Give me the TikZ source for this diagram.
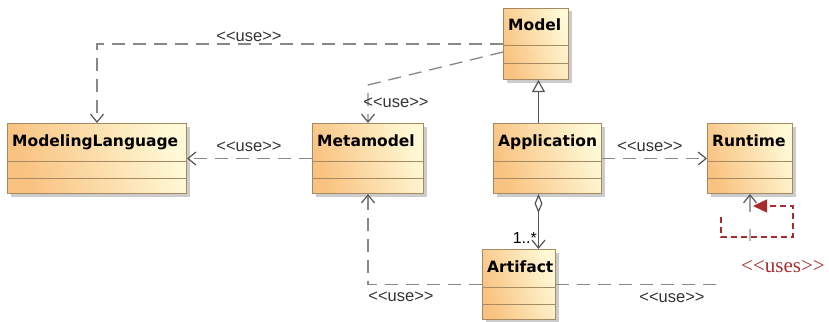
\documentclass[tikz,border=0pt]{standalone}
\usepackage{fontspec}
\setmainfont{Liberation Sans}
\newfontfamily\headfont{DejaVu Sans}
\newfontfamily\notefont{Liberation Serif}
\usetikzlibrary{arrows.meta,shadows,calc}

\definecolor{clsorange}{RGB}{249,194,128}
\definecolor{clsyellow}{RGB}{255,249,214}
\definecolor{clsborder}{RGB}{168,138,98}
\definecolor{depgrey}{RGB}{135,135,135}
\definecolor{tipgrey}{RGB}{85,85,85}
\definecolor{notered}{RGB}{165,45,45}

% stereotype text; the kerns keep << and >> from turning into guillemets
\newcommand\stereo[1]{<\kern0pt<#1>\kern0pt>}

\tikzset{
  cls/.style={draw=clsborder, line width=1pt, inner sep=0pt,
    left color=clsorange, right color=clsyellow, shading angle=110,
    drop shadow={shadow xshift=3pt, shadow yshift=-3pt, fill=black!20, opacity=1}},
  clstitle/.style={inner sep=0pt, font=\headfont\bfseries\fontsize{15.5}{18}\selectfont},
  clsline/.style={draw=clsborder, line width=1pt},
  openv/.tip={Straight Barb[length=8pt, width=13pt, line width=1.2pt, color=tipgrey]},
  dep/.style={draw=depgrey, line width=1.3pt, dash pattern=on 13pt off 8pt, -openv},
  depline/.style={draw=depgrey, line width=1.3pt, dash pattern=on 13pt off 8pt},
  gen/.style={draw=tipgrey, line width=1.2pt,
    -{Triangle[open, length=12pt, width=13pt, fill=white]}},
  agg/.style={draw=tipgrey, line width=1.2pt,
    {Diamond[open, length=19pt, width=8pt, fill=white]}-openv},
  stub/.style={draw=depgrey!80, line width=1.3pt, -openv},
  faint/.style={draw=depgrey!60, line width=1.3pt},
  redloop/.style={draw=notered, line width=1.5pt, dash pattern=on 6pt off 4pt,
    -{Triangle[length=14pt, width=13pt]}},
  lbl/.style={inner sep=0pt, text=black!80, font=\fontsize{16.5}{18}\selectfont},
}

% class box: name, left, top, width, height, title
\newcommand\umlbox[6]{%
  \node[cls, minimum width=#4pt, minimum height=#5pt, anchor=north west] (#1) at (#2,#3) {};
  \node[clstitle, anchor=base west] (#1-title) at ($(#1.north west)+(5,23)$) {#6};
  \draw[clsline] ($(#1.north west)+(0,38)$) -- ($(#1.north east)+(0,38)$);
  \draw[clsline] ($(#1.north west)+(0,55)$) -- ($(#1.north east)+(0,55)$);
}

\begin{document}
\begin{tikzpicture}[x=1pt, y=-1pt]
\useasboundingbox (0,0) rectangle (829,321);

\umlbox{ml}{7}{123}{179}{70}{ModelingLanguage}
\umlbox{mm}{312}{123}{111}{70}{Metamodel}
\umlbox{model}{503}{8}{65}{71}{Model}
\umlbox{app}{493}{123}{108}{70}{Application}
\umlbox{rt}{707}{123}{85}{70}{Runtime}
\umlbox{art}{482}{249}{73}{70}{Artifact}

% dependencies
\draw[dep] (model.west) -| (ml.north);
\draw[dep] ([yshift=-8pt]model.west) -- ($(mm.north)+(0,-38)$) -- (mm.north);
\draw[dep] (mm.west) -- (ml.east);
\draw[dep] (app.east) -- (rt.west);
\draw[dep] (art.west) -| (mm.south);
\coordinate (artcut) at ($(art.east)+(165,0)$);
\draw[depline] (art.east) -- (artcut);
\draw[stub] ($(rt.south)+(0,18)$) -- (rt.south);
\draw[faint] ($(rt.south)+(0,35)$) -- ($(rt.south)+(0,47)$);

% generalization and aggregation
\coordinate (genfoot) at ($(app.north)+(-9,0)$);
\coordinate (aggtop) at ($(app.south)+(-9,0)$);
\draw[gen] (genfoot) -- (genfoot |- model.south);
\draw[agg] (aggtop) -- (aggtop |- art.north);

% labels
\node[lbl] (l1) at (249,37) {\stereo{use}};
\node[lbl] (l2) at (396,103) {\stereo{use}};
\node[lbl] (l3) at (249,147) {\stereo{use}};
\node[lbl] (l4) at (650,147) {\stereo{use}};
\node[lbl] (l5) at (401,297) {\stereo{use}};
\node[lbl] (l6) at (672,298) {\stereo{use}};
\node[inner sep=0pt, anchor=east, font=\fontsize{16}{18}\selectfont] (mult) at (537,238) {1..*};

% self-use loop on Runtime
\coordinate (loopA) at (721,217);
\coordinate (loopC) at (793,237);
\coordinate (loopE) at (753,206);
\draw[redloop] (loopA) |- (loopC) |- (loopE);
\node[inner sep=0pt, text=notered, font=\notefont\fontsize{21}{24}\selectfont] (uses) at (783,267) {\stereo{uses}};
\end{tikzpicture}
\end{document}
